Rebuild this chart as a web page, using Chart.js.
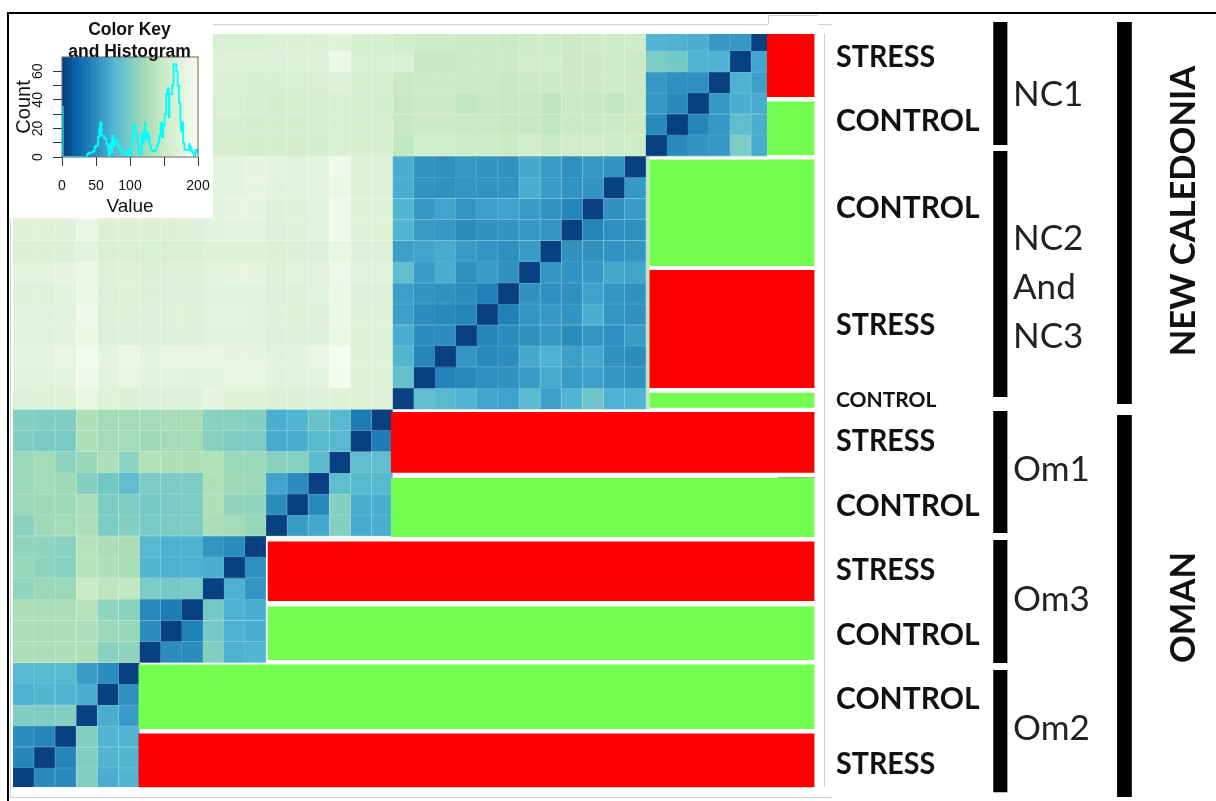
<!DOCTYPE html>
<html><head><meta charset="utf-8">
<script src="https://cdn.jsdelivr.net/npm/chart.js@4"></script>
<style>
html,body{margin:0;padding:0;background:#fff;overflow:hidden}
#wrap{position:relative;width:1216px;height:801px;overflow:hidden;background:#fff}
#main{position:absolute;left:0;top:0;filter:blur(.5px)}
#key{position:absolute;left:10px;top:22px;background:#fff;filter:blur(.4px)}
.ln{position:absolute;background:#cfcfcf}
.blk{background:#000}
</style></head><body>
<div id="wrap">
<canvas id="main" width="1216" height="801"></canvas>
<div class="ln blk" style="left:7px;top:12px;width:1209px;height:2px"></div>
<div class="ln blk" style="left:7px;top:12px;width:2px;height:789px"></div>
<div class="ln" style="left:10px;top:218px;width:1px;height:579px"></div>
<div class="ln" style="left:10px;top:797px;width:822px;height:1px"></div>
<div class="ln" style="left:213px;top:24px;width:555px;height:1px"></div>
<div class="ln" style="left:768px;top:15px;width:1px;height:9px"></div>
<div class="ln" style="left:768px;top:15px;width:50px;height:1px"></div>
<div class="ln" style="left:824px;top:34px;width:1px;height:753px"></div>
<div class="ln" style="left:818px;top:24px;width:14px;height:1px"></div>
<div class="ln" style="left:778px;top:477px;width:37px;height:1px;background:#aaa"></div>
<canvas id="key" width="203" height="196"></canvas>
</div>
<script>
// Heat values (0-200) by row from the top; each row ends at its block's last column.
const rowsNC1 = [
 [165,165,165,168,168,168,172,160,160, 155,152,152,150,150,148,152,152,150,152,152,152, 76,74,72,58,58,0],
 [168,172,172,170,172,172,188,165,165, 165,145,146,150,150,150,155,155,150,150,152,150, 100,95,76,75,0,66],
 [166,165,163,163,165,165,170,160,160, 148,150,150,148,148,146,150,150,150,150,152,150, 58,52,52,0,74,62],
 [165,165,160,158,160,160,165,160,158, 145,150,150,142,146,145,146,140,148,146,142,148, 58,48,0,58,72,70],
 [162,162,158,158,158,160,165,160,160, 146,150,150,148,148,146,146,142,148,148,150,150, 48,0,46,58,85,72],
 [160,160,158,158,158,158,165,160,160, 142,155,155,152,152,150,155,150,155,155,152,152, 0,48,55,58,100,70]
];
const rowsNC23 = [
 [178,178,180,178,175,178,192,172,172, 72,55,52,58,55,54,68,60,52,58,55,0],
 [178,178,180,175,175,178,188,172,172, 72,55,54,56,55,55,72,60,55,55,0,58],
 [178,178,178,188,172,172,170,172,172, 175,180,180,172,172,175,192,172,172, 78,58,66,56,62,64,60,55,46,0,54,60],
 [172,172,172,182,168,168,168,168,170,175,178,178,170,172,175,192,172,172, 76,60,58,50,54,55,58,56,0,46,52,52],
 [168,168,168,176,165,165,165,165,165,172,172,172,168,168,170,182,170,170, 62,66,70,60,56,52,60,0,54,54,55,56],
 [178,178,180,188,172,172,168,170,172,178,180,180,172,175,176,190,175,175, 85,60,72,52,60,54,0,56,55,58,68,66],
 [172,172,175,188,170,172,168,170,170,176,176,176,170,172,175,188,170,170, 62,55,54,50,42,0,54,52,52,64,56,54],
 [175,175,176,192,172,172,170,172,172,178,178,176,172,172,172,188,172,172, 62,50,48,46,0,42,56,58,55,72,56,54],
 [175,175,176,188,170,170,170,170,170,176,176,176,170,170,170,186,172,172, 72,50,50,0,46,50,54,58,50,56,52,60],
 [178,178,182,195,178,186,178,182,182,182,180,180,175,175,184,198,172,172, 78,46,0,56,48,50,68,74,62,68,54,50],
 [175,175,178,192,176,182,176,178,176,178,182,182,175,176,178,196,172,172, 88,0,44,48,52,54,60,70,60,62,56,54],
 [170,172,172,182,172,168,170,170,170,180,172,172,168,168,170,172,172,172, 0,85,80,76,66,64,82,62,76,92,75,75]
];
const rowsOm1 = [
 [105,102,102,130,122,122,122,125,125,108,108,105,72,76,90,80,38,0],
 [102,98,98,130,122,122,120,122,122,108,102,100,70,72,80,80,0,40],
 [118,122,110,116,128,110,132,130,130,132,118,118,108,106,84,0,85,85],
 [118,122,120,105,95,85,100,100,100,130,120,118,66,50,0,85,80,80],
 [118,120,120,125,100,102,96,98,100,130,112,112,50,0,48,105,72,72],
 [108,120,122,128,100,105,98,100,100,128,122,115,0,60,68,105,70,72]
];
const rowsOm3 = [
 [112,110,108,135,128,125,80,74,74,56,50,0],
 [115,110,108,135,130,125,78,74,74,72,0,52],
 [112,118,118,150,140,142,100,96,98,0,74,56],
 [128,128,128,135,112,108,48,40,0,96,74,72],
 [128,128,128,128,118,115,50,0,42,96,74,72],
 [128,128,130,130,108,110,0,50,50,104,74,78]
];
const rowsOm2 = [
 [80,82,80,60,50,0],
 [74,78,78,72,0,52],
 [102,102,104,0,72,60],
 [50,46,0,104,78,76],
 [46,0,46,104,76,78],
 [0,48,48,104,72,78]
];
// Treatment side bars: start column, first row, last row, treatment
const sideStart = [35.75,35.75,30.18,30.18,30.18,17.92,17.92,12.08,12.08,5.95,5.95];
const sideFrom  = [0.21,3.41,6.16,11.39,17.21,18.12,21.25,24.26,27.34,30.09,33.36];
const sideTo    = [3.19,5.94,11.2,16.99,17.92,21.0,24.05,27.08,29.88,33.15,35.91];
const sideKind  = ['S','C','C','S','C','S','C','S','C','C','S'];
const sideEnd = 38.0;
// Sliver of the next column showing beside the NC2/NC3 block: first row, last row, value
const sliver = [6, 18, 140];
// Bracket bars
const siteFrom = [-0.36,5.75,18.08,24.19,30.35];
const siteTo   = [5.47,17.41,23.86,30.02,36.14];
const regionFrom = [-0.36,18.26];
const regionTo   = [17.74,36.37];
// Histogram of the colour key
const histValue = [0,0.5,1,36,37,40,45,48,50,53,55,56,58,62,65,68,69,70,72,73,74,76,78,80,82,84,86,88,90,92,95,97,99,101,103,105,107,109,111,113,115,117,118,120,122,123,125,127,129,131,133,135,137,139,141,143,145,147,149,151,153,155,157,158,160,162,164,166,168,170,172,174,175,176,178,180,182,184,187,188,190,192,194,196,198,200];
const histCount = [35,35,0,0,2,3,4,7,8,14,20,24,15,13,9,6,1,8,10,3,15,8,11,12,8,6,5,4,3,2,1,5,1,6,13,22,22,15,9,3,2,16,9,18,24,12,17,14,8,5,4,4,5,8,10,15,24,14,22,30,44,48,28,44,44,50,65,65,60,50,38,25,18,24,10,5,5,5,9,7,4,3,1,5,3,6];
const keyLevels = [2.5,7.5,12.5,17.5,22.5,27.5,32.5,37.5,42.5,47.5,52.5,57.5,62.5,67.5,72.5,77.5,82.5,87.5,92.5,97.5,102.5,107.5,112.5,117.5,122.5,127.5,132.5,137.5,142.5,147.5,152.5,157.5,162.5,167.5,172.5,177.5,182.5,187.5,192.5,197.5];
const keyTop = 70;

const ramp = ['#084081','#0868ac','#2b8cbe','#4eb3d3','#7bccc4','#a8ddb5','#ccebc5','#e0f3db','#f7fcf0'].map(h=>[1,3,5].map(i=>parseInt(h.substr(i,2),16)));
function rgbOf(v){const t=Math.max(0,Math.min(200,v))/25,i=Math.min(7,Math.floor(t)),f=t-i;return ramp[i].map((a,k)=>a+(ramp[i+1][k]-a)*f);}
function col(v,w){return 'rgb('+rgbOf(v).map(a=>Math.round(a+(255-a)*(w||0))).join(',')+')';}

const ROW_PX=21.1, COL_PX=21.09, ROW0=29.6, COL0=13;
const W=1216,H=801;
const xMin=-COL0/COL_PX, xMax=(W-COL0)/COL_PX, yMin=-ROW0/ROW_PX, yMax=(H-ROW0)/ROW_PX;
const cellClip={left:0,top:-34,right:-(W-767),bottom:-(H-787)};
const blocks=[[rowsNC1,36],[rowsNC23,30],[rowsOm1,18],[rowsOm3,12],[rowsOm2,6]];
const datasets=[];
let r=0;
blocks.forEach(([rows,end])=>rows.forEach(vals=>{
  const start=end-vals.length;
  datasets.push({label:'row '+(r+1),barThickness:ROW_PX,inflateAmount:0.2,borderWidth:0.6,clip:cellClip,order:1,
    data:vals.map((v,i)=>({y:r+0.5,x:[start+i,start+i+1],v})),
    backgroundColor:c=>col(c.raw.v),borderColor:c=>col(c.raw.v,c.raw.v<20?0.02:0.11)});
  r++;
}));
datasets.push({label:'column edge',barThickness:(sliver[1]-sliver[0])*ROW_PX,inflateAmount:0,order:1,
  data:[{y:(sliver[0]+sliver[1])/2,x:[30,30.18]}],backgroundColor:col(sliver[2])});
sideStart.forEach((s,i)=>datasets.push({label:sideKind[i]==='S'?'STRESS':'CONTROL',barThickness:(sideTo[i]-sideFrom[i])*ROW_PX,inflateAmount:0,order:0,
  data:[{y:(sideFrom[i]+sideTo[i])/2,x:[s,sideEnd]}],backgroundColor:sideKind[i]==='S'?'#ff0000':'#73ff4f'}));
siteFrom.forEach((s,i)=>datasets.push({label:'site',barThickness:(siteTo[i]-s)*ROW_PX,inflateAmount:0,order:0,
  data:[{y:(s+siteTo[i])/2,x:[46.48,47.15]}],backgroundColor:'#000'}));
regionFrom.forEach((s,i)=>datasets.push({label:'region',barThickness:(regionTo[i]-s)*ROW_PX,inflateAmount:0,order:0,
  data:[{y:(s+regionTo[i])/2,x:[52.35,53.05]}],backgroundColor:'#000'}));

const F='Lato, "Open Sans", sans-serif';
const treatLabels=[['STRESS',57],['CONTROL',121],['CONTROL',208],['STRESS',325],['STRESS',441],['CONTROL',506],['STRESS',570],['CONTROL',635],['CONTROL',699],['STRESS',764]];
const siteLabels=[['NC1',95],['NC2',239],['And',288],['NC3',337],['Om1',470],['Om3',600],['Om2',729]];
const regionLabels=[['NEW CALEDONIA',211],['OMAN',607.5]];
const textPlugin={id:'text',afterDatasetsDraw(ch){
  const c=ch.ctx;c.save();c.fillStyle='#111';c.textBaseline='middle';c.textAlign='left';
  c.font='700 30px '+F;
  treatLabels.forEach(([t,y])=>{c.save();c.translate(836,y);c.scale(t==='STRESS'?0.955:1.0,1);c.fillText(t,0,0);c.restore();});
  c.font='700 21px '+F;c.fillText('CONTROL',836,400);
  c.fillStyle='#222';c.font='400 35px '+F;
  siteLabels.forEach(([t,y])=>c.fillText(t,1013,y));
  c.fillStyle='#111';c.font='700 34.5px '+F;c.textAlign='center';
  regionLabels.forEach(([t,y])=>{c.save();c.translate(1184,y);c.rotate(-Math.PI/2);c.fillText(t,0,0);c.restore();});
  c.restore();
}};
new Chart(document.getElementById('main'),{type:'bar',plugins:[textPlugin],
 data:{datasets},
 options:{indexAxis:'y',responsive:false,animation:false,grouped:false,
  layout:{padding:0},
  plugins:{legend:{display:false},tooltip:{enabled:false},title:{display:false}},
  scales:{x:{type:'linear',display:false,min:xMin,max:xMax,offset:false},
          y:{type:'linear',display:false,min:yMin,max:yMax,reverse:true,offset:false}}}});

const HF='"Liberation Sans", Arial, sans-serif';
const keyPlugin={id:'keytext',afterDraw(ch){
  const c=ch.ctx,{left,top,width,height}=ch.chartArea,y=ch.scales.y;
  c.save();c.strokeStyle='#666';c.lineWidth=1;c.strokeRect(left,top,width,height);
  c.fillStyle='#111';c.textAlign='center';c.textBaseline='middle';
  c.font='700 17.5px '+HF;
  c.fillText('Color Key',119.5,8);c.fillText('and Histogram',119.5,30);
  c.font='14px '+HF;
  [0,20,40,60].forEach(v=>{c.save();c.translate(28,y.getPixelForValue(v));c.rotate(-Math.PI/2);c.fillText(String(v),0,0);c.restore();});
  c.restore();
}};
new Chart(document.getElementById('key'),{plugins:[keyPlugin],
 data:{datasets:[
  {type:'line',label:'Histogram',order:0,data:histValue.map((x,i)=>({x,y:histCount[i]})),borderColor:'#00ffff',borderWidth:1.8,pointRadius:0,stepped:true,fill:false},
  {type:'bar',label:'Color key',order:1,data:keyLevels.map(x=>({x,y:keyTop})),backgroundColor:c=>col(c.raw.x),barPercentage:1,categoryPercentage:1,grouped:false}
 ]},
 options:{responsive:false,animation:false,layout:{padding:{left:0,top:35,right:15,bottom:0}},
  plugins:{legend:{display:false},tooltip:{enabled:false}},
  scales:{
   x:{type:'linear',min:0,max:200,offset:false,afterFit:s=>{s.height=61;s.paddingLeft=0;s.paddingRight=0;},
      grid:{drawOnChartArea:false,tickLength:9,tickColor:'#333',offset:false},border:{display:false},
      afterBuildTicks:s=>{s.ticks=[0,50,100,150,200].map(value=>({value}));},
      ticks:{autoSkip:false,maxRotation:0,color:'#111',font:{family:HF,size:14},padding:12,callback:v=>v===150?'':String(v)},
      title:{display:true,text:'Value',color:'#111',font:{family:HF,size:19},padding:{top:0,bottom:0}}},
   y:{type:'linear',min:0,max:keyTop,afterFit:s=>{s.width=52;},
      grid:{drawOnChartArea:false,tickLength:9,tickColor:'#333'},border:{display:false},
      afterBuildTicks:s=>{s.ticks=[0,10,20,30,40,50,60].map(value=>({value}));},
      ticks:{display:false},
      title:{display:true,text:'Count',color:'#111',font:{family:HF,size:20},padding:{top:2,bottom:0}}}
  }}});
</script></body></html>
